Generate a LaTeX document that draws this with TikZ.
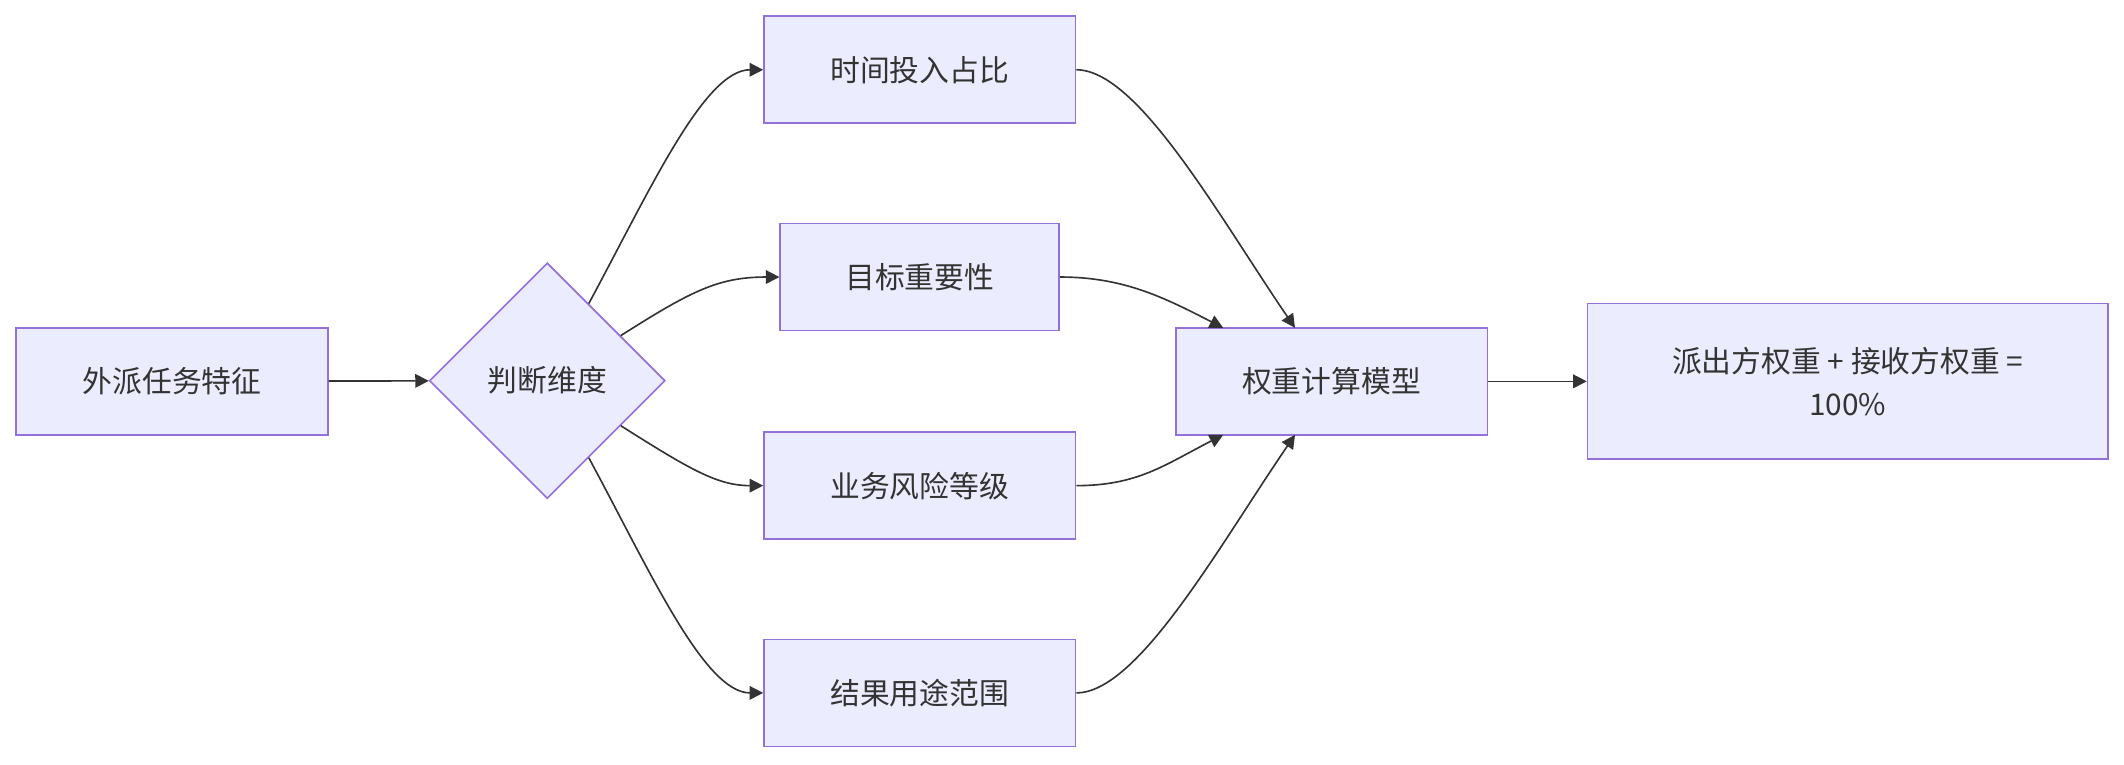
\documentclass[tikz,border=0pt]{standalone}
\usepackage{fontspec}
\setmainfont{Noto Sans CJK SC}
\usetikzlibrary{shapes.geometric,arrows.meta,calc}
\definecolor{boxfill}{HTML}{ECECFF}
\definecolor{boxline}{HTML}{9370DB}
\definecolor{edge}{HTML}{333333}
\tikzset{
  box/.style={draw=boxline,fill=boxfill,line width=0.6pt,minimum width=115pt,minimum height=39.5pt,inner sep=0pt,font=\fontsize{11}{16}\selectfont,text=edge,align=center},
  decide/.style={diamond,draw=boxline,fill=boxfill,line width=0.6pt,minimum width=87pt,minimum height=87pt,inner sep=0pt,font=\fontsize{11}{16}\selectfont,text=edge},
  flow/.style={draw=edge,line width=0.6pt,-{Triangle[length=5pt,width=5pt]}}
}
\begin{document}
\begin{tikzpicture}[x=0.5pt,y=-0.5pt]
    \useasboundingbox (0,0) rectangle (1568,564);
    %
    \node[box] (task) at (127,281.5) {外派任务特征};
    \node[decide] (dim) at (404,281) {判断维度};
    \node[box] (time) at (679,51.5) {时间投入占比};
    \node[box,minimum width=103pt] (goal) at (679,204.5) {目标重要性};
    \node[box] (risk) at (679,358.5) {业务风险等级};
    \node[box] (use) at (679,511.5) {结果用途范围};
    \node[box] (model) at (983,281.5) {权重计算模型};
    \node[box,minimum width=192pt,minimum height=57.5pt] (sum) at (1364,281.5) {派出方权重 + 接收方权重 =\\100\%};
    %
    \draw[flow] (task) -- (dim);
    \draw[flow] ($(dim.north)!0.35!(dim.east)$) .. controls (480,140) and (520,51.5) .. (time.west);
    \draw[flow] ($(dim.north)!0.62!(dim.east)$) .. controls (510,215) and (530,204.5) .. (goal.west);
    \draw[flow] ($(dim.south)!0.62!(dim.east)$) .. controls (510,347) and (530,358.5) .. (risk.west);
    \draw[flow] ($(dim.south)!0.35!(dim.east)$) .. controls (480,422) and (520,511.5) .. (use.west);
    %
    \draw[flow] (time.east) .. controls (840,51.5) and (900,160) .. (956,242);
    \draw[flow] (goal.east) .. controls (830,204.5) and (860,220) .. (903,242);
    \draw[flow] (risk.east) .. controls (840,358.5) and (860,343) .. (903,321);
    \draw[flow] (use.east) .. controls (840,511.5) and (900,403) .. (956,321);
    \draw[flow] (model) -- (sum);
\end{tikzpicture}
\end{document}
